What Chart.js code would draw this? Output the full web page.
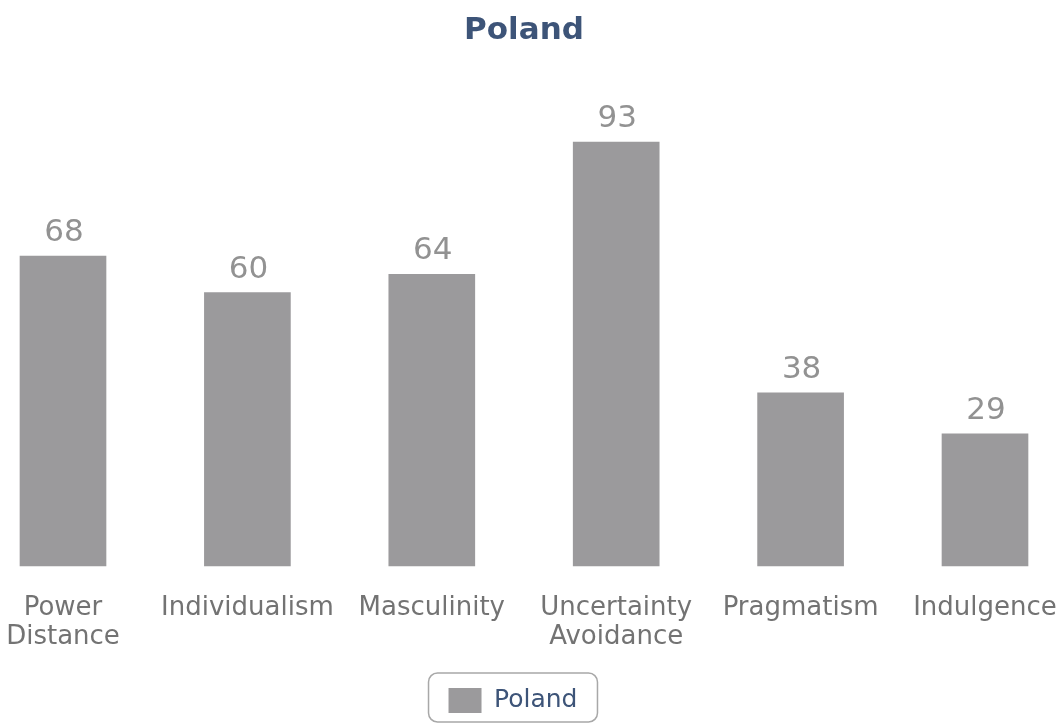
<!DOCTYPE html>
<html>
<head>
<meta charset="utf-8">
<script src="https://cdn.jsdelivr.net/npm/chart.js@4"></script>
<style>
  html, body { margin: 0; padding: 0; background: #fff; }
  #wrap { width: 1059px; height: 725px; }
</style>
</head>
<body>
<div id="wrap"><canvas id="chart"></canvas></div>
<script>
const categories = [
  ['Power', 'Distance'],
  'Individualism',
  'Masculinity',
  ['Uncertainty', 'Avoidance'],
  'Pragmatism',
  'Indulgence'
];
const scores = [68, 60, 64, 93, 38, 29];
const seriesName = 'Poland';

// value labels above each bar
const valueLabels = {
  id: 'valueLabels',
  afterDatasetsDraw(chart) {
    const ctx = chart.ctx;
    const meta = chart.getDatasetMeta(0);
    ctx.save();
    ctx.font = '31px "DejaVu Sans", sans-serif';
    ctx.fillStyle = '#929292';
    ctx.textAlign = 'center';
    ctx.textBaseline = 'alphabetic';
    meta.data.forEach((bar, i) => {
      ctx.fillText(scores[i], bar.x + 1, bar.y - 15);
    });
    ctx.restore();
  }
};

// legend sits a bit left of centre in the original
const legendShift = {
  id: 'legendShift',
  afterLayout(chart) {
    chart.legend.left -= 11;
    chart.legend.right -= 11;
  }
};

// rounded frame round the legend
const legendFrame = {
  id: 'legendFrame',
  afterDraw(chart) {
    const box = chart.legend.legendHitBoxes[0];
    if (!box) return;
    const ctx = chart.ctx;
    ctx.save();
    ctx.strokeStyle = '#a8a8a8';
    ctx.lineWidth = 1.5;
    ctx.beginPath();
    ctx.roundRect(box.left - 20, box.top - 15, box.width + 40, box.height + 24, 9);
    ctx.stroke();
    ctx.restore();
  }
};

new Chart(document.getElementById('chart'), {
  type: 'bar',
  data: {
    labels: categories,
    datasets: [{
      label: seriesName,
      data: scores,
      backgroundColor: '#9b9a9c',
      borderWidth: 0,
      barThickness: 86,
      clip: false
    }]
  },
  options: {
    responsive: true,
    maintainAspectRatio: false,
    animation: false,
    layout: { padding: { left: 63, right: 74, top: 8, bottom: 2 } },
    plugins: {
      title: {
        display: true,
        text: 'Poland',
        color: '#3d5478',
        font: { family: '"DejaVu Sans", sans-serif', size: 31, weight: 'bold' },
        padding: { top: 4, bottom: 61 }
      },
      legend: {
        position: 'bottom',
        labels: {
          color: '#3d5478',
          boxWidth: 33,
          boxHeight: 25,
          font: { family: '"DejaVu Sans", sans-serif', size: 25 },
          padding: 12
        }
      },
      tooltip: { enabled: false }
    },
    scales: {
      x: {
        offset: false,
        grid: { display: false, drawTicks: false },
        border: { display: false },
        afterFit(scale) {
          scale.height = 110;
          scale.paddingLeft = 0;
          scale.paddingRight = 0;
        },
        ticks: {
          color: '#737373',
          padding: 28,
          maxRotation: 0,
          autoSkip: false,
          font: { family: '"DejaVu Sans", sans-serif', size: 26, lineHeight: 1.12 }
        }
      },
      y: {
        display: false,
        min: 0,
        max: 100
      }
    }
  },
  plugins: [valueLabels, legendShift, legendFrame]
});
</script>
</body>
</html>
